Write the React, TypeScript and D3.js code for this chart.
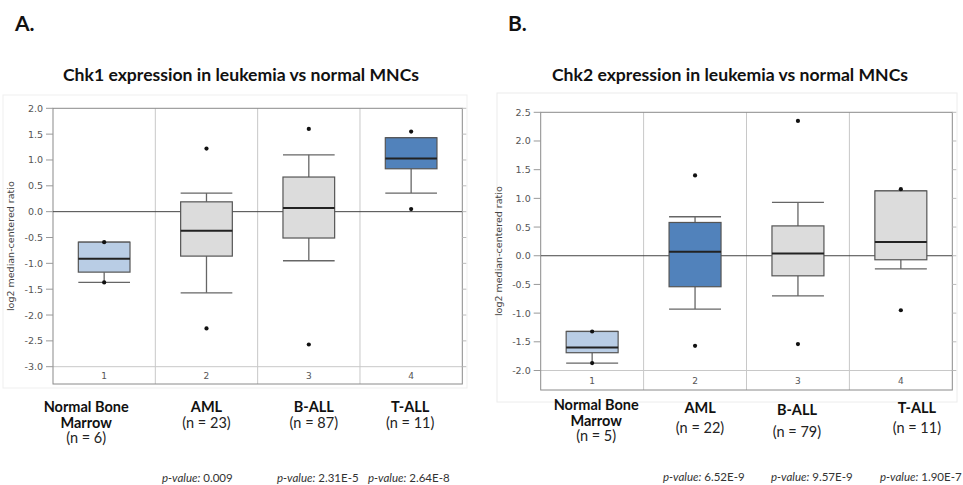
import React from 'react';
import { scaleBand, scaleLinear } from 'd3';

// --- data ---
const groups = ['1', '2', '3', '4'];
const groupNames = ['Normal Bone|Marrow', 'AML', 'B-ALL', 'T-ALL'];

const chk1Counts = [6, 23, 87, 11];
const chk1Min = [-1.37, -1.57, -0.95, 0.36];
const chk1Q1 = [-1.17, -0.86, -0.51, 0.83];
const chk1Median = [-0.91, -0.37, 0.07, 1.03];
const chk1Q3 = [-0.59, 0.19, 0.67, 1.43];
const chk1Max = [-0.59, 0.36, 1.1, 1.43];
const chk1Outliers = [[-0.59, -1.37], [1.22, -2.26], [1.6, -2.57], [1.55, 0.05]];
const chk1PValues = ['', '0.009', '2.31E-5', '2.64E-8'];
const chk1Ticks = [2.0, 1.5, 1.0, 0.5, 0.0, -0.5, -1.0, -1.5, -2.0, -2.5, -3.0];

const chk2Counts = [5, 22, 79, 11];
const chk2Min = [-1.87, -0.93, -0.7, -0.23];
const chk2Q1 = [-1.69, -0.54, -0.35, -0.07];
const chk2Median = [-1.6, 0.07, 0.04, 0.24];
const chk2Q3 = [-1.32, 0.58, 0.52, 1.13];
const chk2Max = [-1.32, 0.68, 0.93, 1.13];
const chk2Outliers = [[-1.32, -1.87], [1.4, -1.57], [2.35, -1.54], [1.16, -0.95]];
const chk2PValues = ['', '6.52E-9', '9.57E-9', '1.90E-7'];
const chk2Ticks = [2.5, 2.0, 1.5, 1.0, 0.5, 0.0, -0.5, -1.0, -1.5, -2.0];

const LIGHT = '#b9cde5';
const DARK = '#5182bb';
const GREY = '#dcdcdc';
const chk1Fills = [LIGHT, GREY, GREY, DARK];
const chk2Fills = [LIGHT, DARK, GREY, GREY];

const TICK_FONT = 'DejaVu Sans, sans-serif';
const LABEL_FONT = 'Lato, "Open Sans", sans-serif';

function BoxPanel(props: any) {
    const {
        title, titleX, titleY, left, right, top, gridY, bottom,
        yMin, yMax, ticks, mins, q1s, medians, q3s, maxs, outliers, fills,
        counts, pValues, labelLines, pY, pStarts,
    } = props;

    const x = scaleBand().domain(groups).range([left, right]);
    const y = scaleLinear().domain([yMin, yMax]).range([gridY, top]);
    const bw = x.bandwidth();
    const boxW = bw * 0.505;

    return (
        <g>
            <text x={titleX} y={titleY} textAnchor="middle" fontFamily={LABEL_FONT}
                fontWeight="bold" fontSize={17.6} fill="#111">{title}</text>

            {/* frame and grid */}
            {groups.slice(1).map(g => (
                <line key={g} x1={x(g)} x2={x(g)} y1={top} y2={bottom} stroke="#c8c8c8" />
            ))}
            <line x1={left} x2={right} y1={gridY} y2={gridY} stroke="#c8c8c8" />
            <rect x={left} y={top} width={right - left} height={bottom - top}
                fill="none" stroke="#8a8a8a" />
            <line x1={left} x2={right} y1={y(0)} y2={y(0)} stroke="#444" />

            {ticks.map((t: number) => (
                <g key={t}>
                    <line x1={left - 7} x2={left} y1={y(t)} y2={y(t)} stroke="#999" />
                    <line x1={right} x2={right + 4} y1={y(t)} y2={y(t)} stroke="#bbb" />
                    <text x={left - 10} y={y(t) + 3.5} textAnchor="end" fontFamily={TICK_FONT}
                        fontSize={9.5} fill="#555">{t.toFixed(1)}</text>
                </g>
            ))}
            <text transform={`translate(${left - 39},${(top + bottom) / 2}) rotate(-90)`}
                textAnchor="middle" fontFamily={TICK_FONT} fontSize={9.5} fill="#444">
                log2 median-centered ratio
            </text>

            {groups.map((g, i) => {
                const cx = (x(g) as number) + bw / 2;
                const x0 = cx - boxW / 2;
                const x1 = cx + boxW / 2;
                return (
                    <g key={g}>
                        <line x1={cx} x2={cx} y1={y(maxs[i])} y2={y(q3s[i])} stroke="#666" strokeWidth={1.3} />
                        <line x1={cx} x2={cx} y1={y(q1s[i])} y2={y(mins[i])} stroke="#666" strokeWidth={1.3} />
                        <line x1={x0} x2={x1} y1={y(maxs[i])} y2={y(maxs[i])} stroke="#666" strokeWidth={1.3} />
                        <line x1={x0} x2={x1} y1={y(mins[i])} y2={y(mins[i])} stroke="#666" strokeWidth={1.3} />
                        <rect x={x0} y={y(q3s[i])} width={boxW} height={y(q1s[i]) - y(q3s[i])}
                            fill={fills[i]} stroke="#555" strokeWidth={1.2} />
                        <line x1={x0} x2={x1} y1={y(medians[i])} y2={y(medians[i])} stroke="#222" strokeWidth={2} />
                        {outliers[i].map((v: number, k: number) => (
                            <circle key={k} cx={cx} cy={y(v)} r={2.1} fill="#111" />
                        ))}
                        <text x={cx} y={(gridY + bottom) / 2 + 3.5} textAnchor="middle"
                            fontFamily={TICK_FONT} fontSize={9} fill="#555">{g}</text>

                        {labelLines[i].name.map((line: string, k: number) => (
                            <text key={k} x={cx + labelLines[i].dx} y={labelLines[i].y + k * 15.5}
                                textAnchor="middle" fontFamily={LABEL_FONT} fontWeight="bold"
                                fontSize={14.5} fill="#111">{line}</text>
                        ))}
                        <text x={cx + labelLines[i].dx}
                            y={labelLines[i].y + labelLines[i].name.length * 15.5 + (labelLines[i].gap || 0)}
                            textAnchor="middle" fontFamily={LABEL_FONT} fontSize={14.5} fill="#222">
                            (n = {counts[i]})
                        </text>

                        {pValues[i] && (
                            <text x={pStarts[i]} y={pY} fontFamily={LABEL_FONT} fontSize={11.5} fill="#333">
                                <tspan fontStyle="italic">p-value:</tspan> {pValues[i]}
                            </text>
                        )}
                    </g>
                );
            })}
        </g>
    );
}

export default function App() {
    const names = groupNames.map(n => n.split('|'));
    const chk1Labels = [
        { name: names[0], y: 412, dx: -18 },
        { name: names[1], y: 412, dx: 0 },
        { name: names[2], y: 412, dx: 5 },
        { name: names[3], y: 412, dx: -1 },
    ];
    const chk2Labels = [
        { name: names[0], y: 410, dx: 4 },
        { name: names[1], y: 413, dx: 5, gap: 4 },
        { name: names[2], y: 415, dx: -1, gap: 6 },
        { name: names[3], y: 413, dx: 16, gap: 4 },
    ];

    return (
        <svg width={963} height={485}
            style={{ position: 'absolute', left: 0, top: 0, background: '#fff', display: 'block' }}>
            <rect x={3} y={95} width={464} height={293} fill="none" stroke="#efefef" />
            <rect x={497} y={93} width={460} height={309} fill="none" stroke="#ececec" />

            <text x={15} y={31} fontFamily={LABEL_FONT} fontWeight="bold" fontSize={21} fill="#111">A.</text>
            <text x={508} y={31} fontFamily={LABEL_FONT} fontWeight="bold" fontSize={21} fill="#111">B.</text>

            <BoxPanel
                title="Chk1 expression in leukemia vs normal MNCs" titleX={241} titleY={81}
                left={53} right={462.3} top={108.3} gridY={366.7} bottom={384}
                yMin={-3} yMax={2} ticks={chk1Ticks}
                mins={chk1Min} q1s={chk1Q1} medians={chk1Median} q3s={chk1Q3} maxs={chk1Max}
                outliers={chk1Outliers} fills={chk1Fills} counts={chk1Counts}
                pValues={chk1PValues} pY={482} pStarts={[0, 162, 277, 368]}
                labelLines={chk1Labels}
            />
            <BoxPanel
                title="Chk2 expression in leukemia vs normal MNCs" titleX={730} titleY={81}
                left={540.7} right={952.3} top={112.3} gridY={370.5} bottom={390}
                yMin={-2} yMax={2.5} ticks={chk2Ticks}
                mins={chk2Min} q1s={chk2Q1} medians={chk2Median} q3s={chk2Q3} maxs={chk2Max}
                outliers={chk2Outliers} fills={chk2Fills} counts={chk2Counts}
                pValues={chk2PValues} pY={481} pStarts={[0, 663, 771, 880]}
                labelLines={chk2Labels}
            />
        </svg>
    );
}
